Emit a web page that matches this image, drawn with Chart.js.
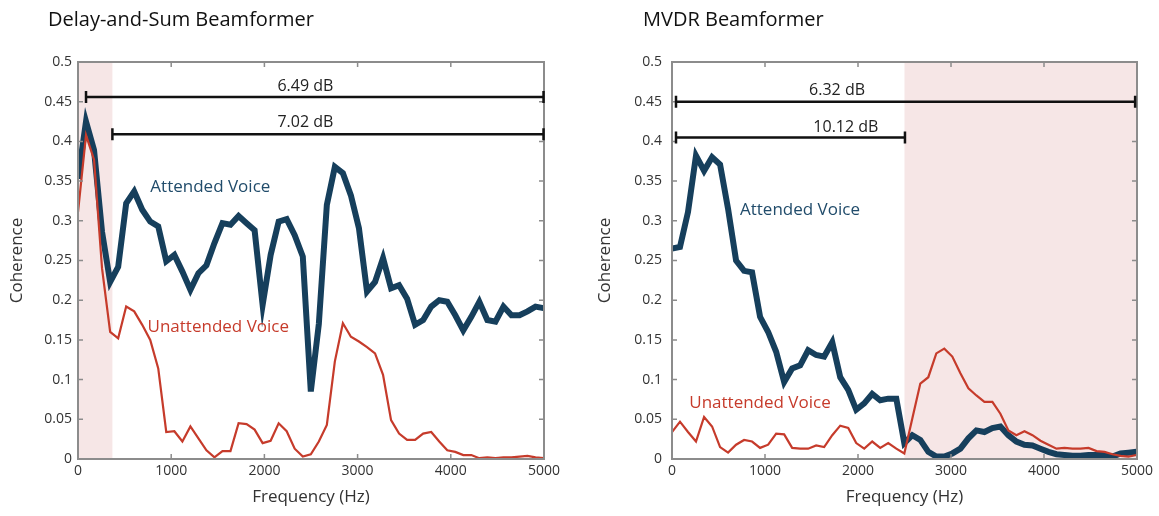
<!DOCTYPE html>
<html>
<head>
<meta charset="utf-8">
<script src="https://cdn.jsdelivr.net/npm/chart.js@4/dist/chart.umd.min.js"></script>
<style>
  body { margin: 0; background: #fff; }
  .wrap { position: absolute; top: 0; height: 516px; }
  .title { position: absolute; top: 5px; font: 20px "Open Sans", sans-serif; color: #111; white-space: nowrap; }
</style>
</head>
<body>
<div class="wrap" style="left:0;width:580px"><canvas id="chart_das"></canvas></div>
<div class="wrap" style="left:580px;width:579px"><canvas id="chart_mvdr"></canvas></div>
<div class="title" style="left:48px">Delay-and-Sum Beamformer</div>
<div class="title" style="left:643px">MVDR Beamformer</div>
<script>
// frequency bins (Hz)
const freqHz = [0, 86, 172, 258, 345, 431, 517, 603, 689, 775, 861, 947, 1034, 1120, 1206, 1292, 1378, 1464, 1550, 1636,
    1723, 1809, 1895, 1981, 2067, 2153, 2239, 2325, 2412, 2498, 2584, 2670, 2756, 2842, 2928, 3014, 3101, 3187, 3273, 3359,
    3445, 3531, 3617, 3703, 3790, 3876, 3962, 4048, 4134, 4220, 4306, 4392, 4479, 4565, 4651, 4737, 4823, 4909, 4995];

// Delay-and-Sum coherence
const dasAttended = [0.353, 0.425, 0.389, 0.286, 0.223, 0.242, 0.322, 0.337, 0.314, 0.299,
    0.293, 0.249, 0.257, 0.236, 0.213, 0.234, 0.244, 0.272, 0.297, 0.295,
    0.306, 0.297, 0.288, 0.194, 0.257, 0.299, 0.302, 0.282, 0.255, 0.085,
    0.170, 0.320, 0.368, 0.360, 0.332, 0.291, 0.211, 0.223, 0.253, 0.215,
    0.219, 0.202, 0.169, 0.175, 0.192, 0.200, 0.198, 0.181, 0.162, 0.179,
    0.198, 0.175, 0.173, 0.192, 0.181, 0.181, 0.186, 0.192, 0.190];
const dasUnattended = [0.311, 0.408, 0.377, 0.240, 0.160, 0.152, 0.192, 0.186, 0.169, 0.150,
    0.114, 0.034, 0.035, 0.022, 0.041, 0.026, 0.011, 0.002, 0.010, 0.010,
    0.045, 0.044, 0.037, 0.020, 0.023, 0.045, 0.035, 0.013, 0.003, 0.006,
    0.022, 0.043, 0.123, 0.171, 0.154, 0.148, 0.141, 0.133, 0.106, 0.049,
    0.032, 0.024, 0.024, 0.032, 0.034, 0.022, 0.011, 0.009, 0.005, 0.005,
    0.001, 0.002, 0.001, 0.002, 0.002, 0.003, 0.004, 0.002, 0.001];

// MVDR coherence
const mvdrAttended = [0.265, 0.267, 0.311, 0.382, 0.363, 0.380, 0.371, 0.315, 0.250, 0.237,
    0.235, 0.179, 0.160, 0.135, 0.097, 0.114, 0.118, 0.137, 0.131, 0.129,
    0.147, 0.103, 0.087, 0.062, 0.070, 0.082, 0.074, 0.076, 0.076, 0.020,
    0.030, 0.024, 0.009, 0.003, 0.003, 0.007, 0.013, 0.026, 0.036, 0.034,
    0.039, 0.041, 0.030, 0.022, 0.018, 0.017, 0.013, 0.009, 0.006, 0.005,
    0.004, 0.004, 0.005, 0.005, 0.005, 0.003, 0.007, 0.008, 0.009];
const mvdrUnattended = [0.034, 0.047, 0.034, 0.022, 0.053, 0.041, 0.015, 0.008, 0.018, 0.024,
    0.022, 0.014, 0.018, 0.032, 0.031, 0.014, 0.013, 0.013, 0.017, 0.015,
    0.030, 0.042, 0.039, 0.020, 0.013, 0.022, 0.014, 0.020, 0.013, 0.007,
    0.051, 0.095, 0.103, 0.133, 0.139, 0.129, 0.108, 0.089, 0.080, 0.072,
    0.072, 0.057, 0.036, 0.030, 0.035, 0.030, 0.023, 0.018, 0.013, 0.014,
    0.013, 0.013, 0.014, 0.010, 0.009, 0.006, 0.004, 0.003, 0.005];

// shaded bands [from, to] in Hz
const dasBand = [0, 369];
const mvdrBand = [2500, 5000];

// dB range bars: start Hz, end Hz, coherence level, label, label Hz, label level
const dasBarStart = [86, 369];
const dasBarEnd = [4995, 4995];
const dasBarLevel = [0.456, 0.409];
const dasBarLabel = ["6.49 dB", "7.02 dB"];
const dasBarLabelHz = [2440, 2440];
const dasBarLabelLevel = [0.469, 0.424];

const mvdrBarStart = [43, 43];
const mvdrBarEnd = [4980, 2505];
const mvdrBarLevel = [0.450, 0.405];
const mvdrBarLabel = ["6.32 dB", "10.12 dB"];
const mvdrBarLabelHz = [1775, 1870];
const mvdrBarLabelLevel = [0.464, 0.418];

// series text labels: [Hz, level]
const dasAttLabelAt = [1420, 0.343];
const dasUnattLabelAt = [1505, 0.166];
const mvdrAttLabelAt = [1376, 0.314];
const mvdrUnattLabelAt = [946, 0.070];

const NAVY = "#163f5c";
const RED = "#c63b2b";
const FONT = '"Open Sans", sans-serif';

const decorPlugin = {
    id: "decor",
    beforeDatasetsDraw(chart, args, opts) {
        const {ctx, chartArea, scales: {x, y}} = chart;
        ctx.save();
        ctx.fillStyle = "#f6e6e6";
        const x0 = x.getPixelForValue(opts.band[0]);
        const x1 = x.getPixelForValue(opts.band[1]);
        ctx.fillRect(x0, chartArea.top, x1 - x0, chartArea.bottom - chartArea.top);
        ctx.restore();
    },
    afterDatasetsDraw(chart, args, opts) {
        const {ctx, chartArea, scales: {x, y}} = chart;
        ctx.save();
        // box + inward ticks
        ctx.strokeStyle = "#8c8c8c";
        ctx.lineWidth = 2;
        ctx.strokeRect(chartArea.left, chartArea.top, chartArea.right - chartArea.left, chartArea.bottom - chartArea.top);
        ctx.lineWidth = 1.5;
        ctx.beginPath();
        x.ticks.forEach(t => {
            const px = x.getPixelForValue(t.value);
            ctx.moveTo(px, chartArea.bottom); ctx.lineTo(px, chartArea.bottom - 5);
            ctx.moveTo(px, chartArea.top); ctx.lineTo(px, chartArea.top + 5);
        });
        y.ticks.forEach(t => {
            const py = y.getPixelForValue(t.value);
            ctx.moveTo(chartArea.left, py); ctx.lineTo(chartArea.left + 5, py);
            ctx.moveTo(chartArea.right, py); ctx.lineTo(chartArea.right - 5, py);
        });
        ctx.stroke();

        // dB bars
        ctx.strokeStyle = "#111";
        ctx.fillStyle = "#222";
        ctx.lineWidth = 2.5;
        ctx.font = "16px " + FONT;
        ctx.textAlign = "center";
        ctx.textBaseline = "middle";
        for (let i = 0; i < opts.barStart.length; i++) {
            const a = x.getPixelForValue(opts.barStart[i]);
            const b = x.getPixelForValue(opts.barEnd[i]);
            const py = y.getPixelForValue(opts.barLevel[i]);
            ctx.beginPath();
            ctx.moveTo(a, py); ctx.lineTo(b, py);
            ctx.moveTo(a, py - 6); ctx.lineTo(a, py + 6);
            ctx.moveTo(b, py - 6); ctx.lineTo(b, py + 6);
            ctx.stroke();
            ctx.fillText(opts.barLabel[i], x.getPixelForValue(opts.barLabelHz[i]), y.getPixelForValue(opts.barLabelLevel[i]));
        }

        // series labels
        ctx.font = "17px " + FONT;
        ctx.fillStyle = "#214c6b";
        ctx.fillText("Attended Voice", x.getPixelForValue(opts.attAt[0]), y.getPixelForValue(opts.attAt[1]));
        ctx.fillStyle = RED;
        ctx.fillText("Unattended Voice", x.getPixelForValue(opts.unattAt[0]), y.getPixelForValue(opts.unattAt[1]));
        ctx.restore();
    }
};

function makeChart(id, attended, unattended, layout, decor) {
    const ctx = document.getElementById(id).getContext("2d");
    const points = arr => arr.map((v, i) => ({x: freqHz[i], y: v}));
    return new Chart(ctx, {
        type: "line",
        data: {
            datasets: [
                { label: "Unattended Voice", data: points(unattended), borderColor: RED, borderWidth: 2.2 },
                { label: "Attended Voice", data: points(attended), borderColor: NAVY, borderWidth: 6 }
            ]
        },
        options: {
            responsive: true,
            maintainAspectRatio: false,
            animation: false,
            events: [],
            elements: { point: { radius: 0 }, line: { tension: 0 } },
            layout: { padding: { top: 62, right: layout.right, bottom: 0, left: 0 } },
            scales: {
                x: {
                    type: "linear", min: 0, max: 5000,
                    grid: { display: false, drawTicks: false },
                    border: { display: false },
                    afterFit: s => { s.height = 57; },
                    ticks: { stepSize: 1000, padding: 4, color: "#333", font: { family: FONT, size: 14 }, callback: v => String(v) },
                    title: { display: true, text: "Frequency (Hz)", color: "#333", font: { family: FONT, size: 17 }, padding: { top: 0, bottom: 9 } }
                },
                y: {
                    min: 0, max: 0.5,
                    grid: { display: false, drawTicks: false },
                    border: { display: false },
                    afterFit: s => { s.width = layout.left; },
                    ticks: { stepSize: 0.05, padding: layout.tickPad, color: "#333", font: { family: FONT, size: 14 }, callback: v => String(+v.toFixed(2)) },
                    title: { display: true, text: "Coherence", color: "#333", font: { family: FONT, size: 17 }, padding: { top: layout.titlePad, bottom: 0 } }
                }
            },
            plugins: { legend: { display: false }, tooltip: { enabled: false }, decor: decor }
        },
        plugins: [decorPlugin]
    });
}

makeChart("chart_das", dasAttended, dasUnattended,
    { left: 78, right: 36, tickPad: 6, titlePad: 7 },
    { band: dasBand, barStart: dasBarStart, barEnd: dasBarEnd, barLevel: dasBarLevel, barLabel: dasBarLabel,
      barLabelHz: dasBarLabelHz, barLabelLevel: dasBarLabelLevel, attAt: dasAttLabelAt, unattAt: dasUnattLabelAt });

makeChart("chart_mvdr", mvdrAttended, mvdrUnattended,
    { left: 92, right: 22, tickPad: 10, titlePad: 15 },
    { band: mvdrBand, barStart: mvdrBarStart, barEnd: mvdrBarEnd, barLevel: mvdrBarLevel, barLabel: mvdrBarLabel,
      barLabelHz: mvdrBarLabelHz, barLabelLevel: mvdrBarLabelLevel, attAt: mvdrAttLabelAt, unattAt: mvdrUnattLabelAt });
</script>
</body>
</html>
